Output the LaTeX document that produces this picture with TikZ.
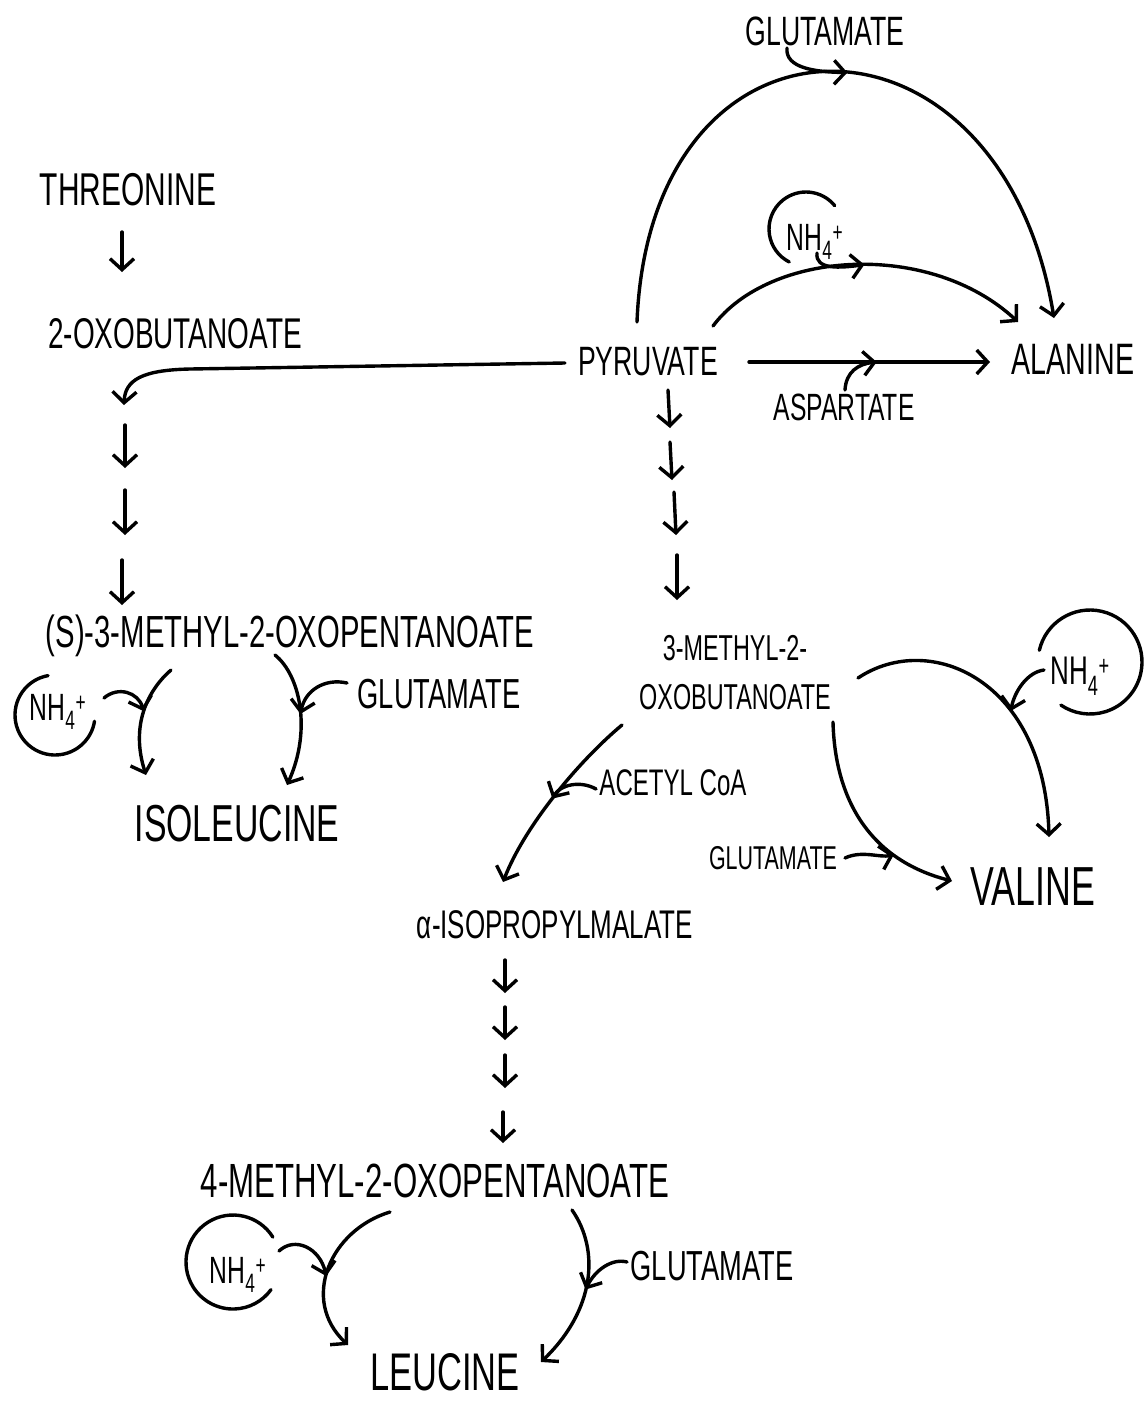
\documentclass[tikz,border=0pt]{standalone}
\usepackage{fontspec}
\setmainfont[FakeStretch=0.65]{Liberation Sans}
\usetikzlibrary{arrows.meta}
\newcommand{\lblsize}[1]{\fontsize{#1}{#1}\selectfont}
\newcommand{\ammonium}{NH\textsubscript{4}\textsuperscript{+}}
\begin{document}
\begin{tikzpicture}[x=1pt,y=-1pt,
  lbl/.style={inner sep=0pt},
  flow/.style={line width=3.4pt, line cap=round, line join=round,
    -{Straight Barb[length=11pt,width=24pt]}},
  ring/.style={line width=3.4pt, line cap=round}]
\useasboundingbox (0,0) rectangle (1146,1401);

% metabolites
\node[lbl,font=\lblsize{46}] (thr) at (128,190) {THREONINE};
\node[lbl,font=\lblsize{43}] (oxb) at (175,334) {2-OXOBUTANOATE};
\node[lbl,font=\lblsize{41}] (pyr) at (648,362) {PYRUVATE};
\node[lbl,font=\lblsize{44}] (ala) at (1073,359) {ALANINE};
\node[lbl,font=\lblsize{45}] (smo) at (290,636) {(S)-3-METHYL-2-OXOPENTANOATE};
\node[lbl,font=\lblsize{52}] (ile) at (237,824) {ISOLEUCINE};
\node[lbl,font=\fontsize{36}{49}\selectfont,align=center] (mob) at (735,673) {3-METHYL-2-\\OXOBUTANOATE};
\node[lbl,font=\lblsize{55}] (val) at (1033,887) {VALINE};
\node[lbl,font=\lblsize{40}] (ipm) at (555,925) {α-ISOPROPYLMALATE};
\node[lbl,font=\lblsize{48}] (mop) at (435,1181) {4-METHYL-2-OXOPENTANOATE};
\node[lbl,font=\lblsize{53}] (leu) at (445,1372) {LEUCINE};

% co-substrates
\node[lbl,font=\lblsize{41}] (glutop) at (825,31) {GLUTAMATE};
\node[lbl,font=\lblsize{38}] (nhT) at (815,242) {\ammonium};
\node[lbl,font=\lblsize{38}] (asp) at (844,407) {ASPARTATE};
\node[lbl,font=\lblsize{42}] (gluL) at (439,694) {GLUTAMATE};
\node[lbl,font=\lblsize{38}] (nhL) at (58,712) {\ammonium};
\node[lbl,font=\lblsize{40}] (nhR) at (1080,676) {\ammonium};
\node[lbl,font=\lblsize{33}] (gluV) at (773,858) {GLUTAMATE};
\node[lbl,font=\lblsize{37}] (acoa) at (673,783) {ACETYL CoA};
\node[lbl,font=\lblsize{38}] (nhB) at (238,1275) {\ammonium};
\node[lbl,font=\lblsize{42}] (gluB) at (712,1266) {GLUTAMATE};

% open rings around the ammonium labels
\draw[ring] ([shift={(-9,-13)}]nhT.center) ++(-39:37) arc[start angle=-39, end angle=-243, radius=37];
\draw[ring] ([shift={(-3,3)}]nhL.center) ++(-100:40) arc[start angle=-100, end angle=-351, radius=40];
\draw[ring] ([shift={(10,-14)}]nhR.center) ++(-167:52) arc[start angle=-167, end angle=124, radius=52];
\draw[ring] ([shift={(-5,-13)}]nhB.center) ++(-32:47) arc[start angle=-32, end angle=-324, radius=47];

% multi-step arrows
\foreach \n/\xa/\ya/\xb/\yb in {
  l0/122/232/122/272, l1/125/425/125/468, l2/125/490/125/535, l3/122/560/122/605,
  p1/668/390/670/428, p2/670/442/672/480, p3/674/492/676/535, p4/677/555/677/600,
  m1/505/960/505/993, m2/505/1007/505/1040, m3/505/1055/505/1088, m4/503/1112/503/1143}{
  \coordinate (\n a) at (\xa,\ya);
  \coordinate (\n b) at (\xb,\yb);
  \draw[flow] (\n a) -- (\n b);
}

% pyruvate -> alanine, three ways
\draw[flow] ([shift={(-11,-40)}]pyr.center) .. controls (650,-11) and (1000,-11) .. ([shift={(-19,-41)}]ala.center) coordinate[pos=0.53] (gA);
\draw[flow] ([shift={(-38,17)}]glutop.center) .. controls (785,68) and (815,72) .. (gA);

\draw[flow] ([shift={(65,-36)}]pyr.center) .. controls (770,250) and (930,240) .. ([shift={(-55,-37)}]ala.center) coordinate[pos=0.53] (nA);
\draw[flow] ([shift={(2,11)}]nhT.center) .. controls (815,270) and (840,268) .. (nA);

\draw[flow] ([shift={(101,0)}]pyr.center) -- ([shift={(-83,3)}]ala.center) coordinate[pos=0.53] (aA);
\draw[flow] ([shift={(1,-17)}]asp.center) .. controls (846,372) and (858,364) .. (aA);

% pyruvate joins the isoleucine branch
\coordinate (l0end) at (124,405);
\draw[flow] ([shift={(-83,1)}]pyr.center) -- (190,369) .. controls (142,370) and (125,380) .. (l0end);

% isoleucine
\draw[flow] ([shift={(-119,34)}]smo.center) .. controls (148,690) and (130,725) .. ([shift={(-91,-49)}]ile.center) coordinate[pos=0.5] (nL);
\draw[flow] ([shift={(46,-14)}]nhL.center) .. controls (118,686) and (138,692) .. (nL);
\draw[flow] ([shift={(-15,19)}]smo.center) .. controls (300,675) and (312,730) .. ([shift={(50,-39)}]ile.center) coordinate[pos=0.55] (gL);
\draw[flow] ([shift={(-92,-11)}]gluL.center) .. controls (325,678) and (305,690) .. (gL);

% valine
\draw[flow] ([shift={(123,5)}]mob.center) .. controls (930,630) and (1045,680) .. ([shift={(16,-50)}]val.center) coordinate[pos=0.65] (nR);
\draw[flow] ([shift={(-36,-6)}]nhR.center) .. controls (1028,672) and (1015,690) .. (nR);
\draw[flow] ([shift={(98,49)}]mob.center) .. controls (835,800) and (870,860) .. ([shift={(-81,-6)}]val.center) coordinate[pos=0.72] (gV);
\draw[flow] ([shift={(72,0)}]gluV.center) .. controls (862,850) and (880,858) .. (gV);

% leucine
\draw[flow] ([shift={(-113,52)}]mob.center) .. controls (580,760) and (525,825) .. ([shift={(-52,-43)}]ipm.center) coordinate[pos=0.52] (cA);
\draw[flow] ([shift={(-77,6)}]acoa.center) .. controls (580,780) and (560,785) .. (cA);

\draw[flow] ([shift={(-45,31)}]mop.center) .. controls (330,1230) and (300,1300) .. ([shift={(-97,-27)}]leu.center) coordinate[pos=0.55] (nB);
\draw[flow] ([shift={(41,-24)}]nhB.center) .. controls (295,1236) and (320,1248) .. (nB);
\draw[flow] ([shift={(137,29)}]mop.center) .. controls (600,1250) and (595,1310) .. ([shift={(96,-10)}]leu.center) coordinate[pos=0.55] (gB);
\draw[flow] ([shift={(-85,-4)}]gluB.center) .. controls (612,1258) and (595,1270) .. (gB);
\end{tikzpicture}
\end{document}
